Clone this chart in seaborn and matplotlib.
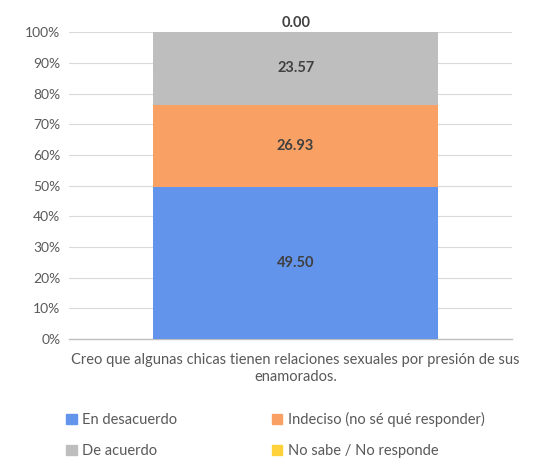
import numpy as np
import pandas as pd
import matplotlib
matplotlib.use("Agg")
import matplotlib.pyplot as plt
import seaborn as sns

# data
category = ["Creo que algunas chicas tienen relaciones sexuales por presión de sus\nenamorados."]
series = ["En desacuerdo", "Indeciso (no sé qué responder)", "De acuerdo", "No sabe / No responde"]
values = [49.50, 26.93, 23.57, 0.00]
colors = ["#6394EC", "#F9A064", "#BEBEBE", "#FFD23C"]

sns.set_theme(style="white")
plt.rcParams["font.family"] = ["Lato", "DejaVu Sans"]

fig = plt.figure(figsize=(5.6, 4.73), dpi=100)
ax = fig.add_axes([0.123, 0.283, 0.791, 0.649])

bottom = 0.0
for name, v, c in zip(series, values, colors):
    df = pd.DataFrame({"cat": category, "val": [v]})
    sns.barplot(data=df, x="cat", y="val", color=c, bottom=bottom, width=0.643,
                ax=ax, label=name, saturation=1, linewidth=0, zorder=3)
    if v > 0:
        ax.text(0, bottom + v / 2, f"{v:.2f}", ha="center", va="center",
                fontsize=10.5, fontweight="bold", color="#404040", zorder=4)
    else:
        ax.text(0, bottom + 0.6, f"{v:.2f}", ha="center", va="bottom",
                fontsize=10.5, fontweight="bold", color="#404040", zorder=4)
    bottom += v

ax.set_ylim(0, 100)
ax.set_xlim(-0.512, 0.488)
ax.set_yticks(np.arange(0, 101, 10))
ax.set_yticklabels([f"{t}%" for t in range(0, 101, 10)])
ax.yaxis.grid(True, color="#D9D9D9", linewidth=0.8, zorder=0)
ax.set_xlabel("")
ax.set_ylabel("")
ax.tick_params(axis="both", length=0, labelsize=10, colors="#595959", pad=6)
ax.tick_params(axis="x", pad=10, labelsize=10.5)
for s in ["top", "right", "left"]:
    ax.spines[s].set_visible(False)
ax.spines["bottom"].set_color("#BFBFBF")
ax.spines["bottom"].set_linewidth(1.0)
for lbl in ax.get_xticklabels():
    lbl.set_linespacing(1.3)
if ax.get_legend() is not None:
    ax.get_legend().remove()

# legend filled row by row: reorder for matplotlib's column-first layout
order = [0, 2, 1, 3]
handles = [plt.Rectangle((0, 0), 1, 1, color=colors[i]) for i in order]
labels = [series[i] for i in order]
fig.legend(handles, labels, loc="upper left", bbox_to_anchor=(0.095, 0.157),
           ncol=2, frameon=False, fontsize=10.5, handlelength=0.7, handleheight=0.7,
           handletextpad=0.4, columnspacing=6.5, labelspacing=1.2,
           labelcolor="#595959")

fig.savefig("out.png", dpi=100)
